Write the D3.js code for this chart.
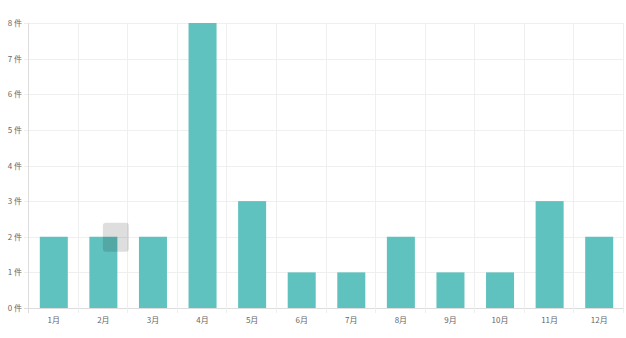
<!DOCTYPE html>
<html>
<head>
<meta charset="utf-8">
<script src="https://cdn.jsdelivr.net/npm/d3@7"></script>
<style>
  body { margin: 0; background: #fff; }
  text { font-family: "Noto Sans CJK JP", "DejaVu Sans", sans-serif; fill: #666; font-size: 8px; }
</style>
</head>
<body>
<div id="main-vis"></div>
<script>
const months = ['1月','2月','3月','4月','5月','6月','7月','8月','9月','10月','11月','12月']
const counts = [2, 2, 2, 8, 3, 1, 1, 2, 1, 1, 3, 2]
const yTicks = [0, 1, 2, 3, 4, 5, 6, 7, 8]

const width = 626, height = 338
const margin = {top: 23, right: 2, bottom: 30, left: 29}

const svg = d3.create('svg')
    .attr('width', width)
    .attr('height', height)

const x = d3.scaleBand()
    .domain(months)
    .range([margin.left, width - margin.right])

const y = d3.scaleLinear()
    .domain([0, 8])
    .range([height - margin.bottom, margin.top])

const barW = x.bandwidth() * 0.565

// horizontal grid + ticks
svg.append('g')
    .selectAll('line')
    .data(yTicks)
    .join('line')
        .attr('x1', margin.left - 5)
        .attr('x2', width - margin.right)
        .attr('y1', d => Math.round(y(d)) + 0.5)
        .attr('y2', d => Math.round(y(d)) + 0.5)
        .attr('stroke', d => d === 0 ? '#ddd' : '#efefef')

// vertical grid lines at category edges
const edges = months.map(m => x(m)).concat([width - margin.right])
svg.append('g')
    .selectAll('line')
    .data(edges)
    .join('line')
        .attr('x1', d => Math.round(d) - 0.5)
        .attr('x2', d => Math.round(d) - 0.5)
        .attr('y1', margin.top)
        .attr('y2', height - margin.bottom + 5)
        .attr('stroke', (d, i) => i === 0 ? '#ddd' : '#efefef')

// y labels
svg.append('g')
    .selectAll('text')
    .data(yTicks)
    .join('text')
        .attr('x', margin.left - 7)
        .attr('y', d => y(d) + 3)
        .attr('text-anchor', 'end')
        .text(d => d + ' 件')

// x labels
svg.append('g')
    .selectAll('text')
    .data(months)
    .join('text')
        .attr('x', d => x(d) + x.bandwidth() / 2)
        .attr('y', height - margin.bottom + 15)
        .attr('text-anchor', 'middle')
        .text(d => d)

// bars
svg.append('g')
    .selectAll('rect')
    .data(counts)
    .join('rect')
        .attr('x', (d, i) => x(months[i]) + (x.bandwidth() - barW) / 2)
        .attr('y', d => y(d))
        .attr('width', barW)
        .attr('height', d => y(0) - y(d))
        .attr('fill', '#60c2bf')

// hover tooltip remnant over 2月
svg.append('rect')
    .attr('x', x('2月') + x.bandwidth() / 2 - 0.5)
    .attr('y', y(2) - 14)
    .attr('width', 26)
    .attr('height', 29)
    .attr('rx', 3)
    .attr('fill', 'rgba(0,0,0,0.13)')

document.getElementById('main-vis').appendChild(svg.node())
</script>
</body>
</html>
